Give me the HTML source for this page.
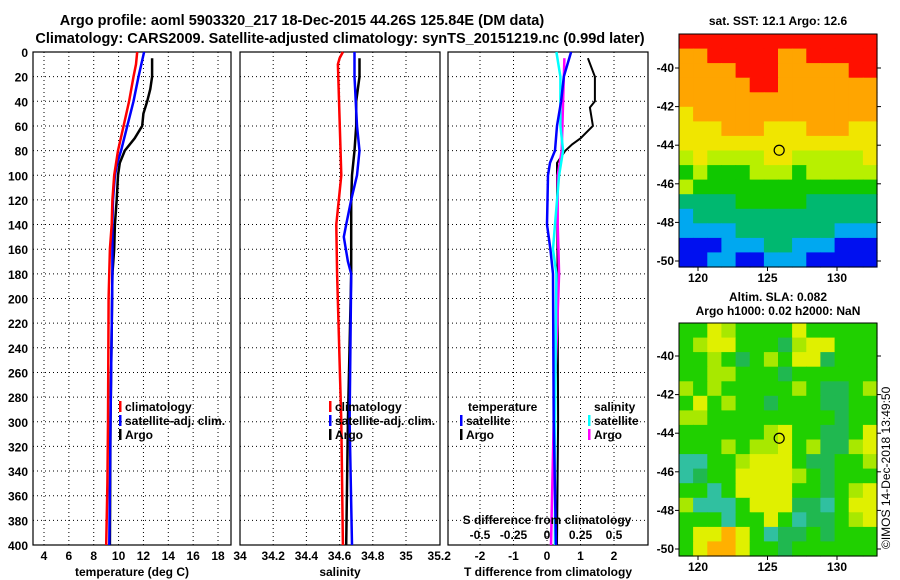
<!DOCTYPE html>
<html><head><meta charset="utf-8"><style>
body{margin:0;background:#fff;}
svg{display:block;font-family:"Liberation Sans",sans-serif;font-weight:bold;}
</style></head><body>
<svg id="c" width="900" height="580" viewBox="0 0 900 580">
<text x="302" y="25" font-size="14.5" text-anchor="middle">Argo profile: aoml 5903320_217 18-Dec-2015 44.26S 125.84E (DM data)</text>
<text x="340" y="43" font-size="14.5" text-anchor="middle">Climatology: CARS2009. Satellite-adjusted climatology: synTS_20151219.nc (0.99d later)</text>
<text x="778" y="25" font-size="12" text-anchor="middle">sat. SST: 12.1 Argo: 12.6</text>
<text x="778" y="301" font-size="12" text-anchor="middle">Altim. SLA: 0.082</text>
<text x="778" y="315" font-size="12" text-anchor="middle">Argo h1000: 0.02 h2000: NaN</text>
<text transform="translate(890,549) rotate(-90)" font-size="12" font-weight="normal">©IMOS 14-Dec-2018 13:49:50</text>
</svg>
<script>
// ---- data ----
const depthTicks=[0,20,40,60,80,100,120,140,160,180,200,220,240,260,280,300,320,340,360,380,400];
const tempTicks=[4,6,8,10,12,14,16,18];
const salTicks=[34,34.2,34.4,34.6,34.8,35,35.2];
const salTickLabels=["34","34.2","34.4","34.6","34.8","35","35.2"];
const tdiffTicks=[-2,-1,0,1,2];
const sdiffTicks=[-0.5,-0.25,0,0.25,0.5];
const sdiffTickLabels=["-0.5","-0.25","0","0.25","0.5"];
const climDepth=[0,10,20,40,60,80,100,120,140,160,200,300,350,400];
const climTemp=[11.5,11.4,11.2,10.85,10.4,9.95,9.65,9.5,9.45,9.3,9.2,9.15,9.1,9.0];
const satDepth=[0,20,40,60,80,90,100,120,140,180,300,400];
const satTemp=[12.05,11.6,11.2,10.7,10.2,9.9,9.7,9.55,9.5,9.5,9.35,9.25];
const argoDepth=[5,20,30,40,50,60,70,80,90,100,120,140,160,180,300,400];
const argoTemp=[12.7,12.7,12.55,12.3,12.0,11.9,11.3,10.5,10.1,9.95,9.85,9.7,9.65,9.5,9.35,9.3];
const climSalDepth=[0,5,10,100,140,180,300,400];
const climSal=[34.62,34.6,34.59,34.61,34.58,34.585,34.61,34.62];
const satSalDepth=[0,20,60,80,100,120,140,150,170,180,300,400];
const satSal=[34.69,34.69,34.705,34.72,34.705,34.67,34.64,34.625,34.65,34.67,34.66,34.675];
const argoSalDepth=[5,20,40,60,80,100,120,180,300,400];
const argoSal=[34.72,34.72,34.70,34.70,34.69,34.675,34.67,34.67,34.65,34.64];
const tdSatDepth=[0,20,40,60,80,90,100,140,160,180,300,400];
const tdSat=[0.72,0.5,0.42,0.3,0.24,0.09,0.03,0,0.1,0.18,0.2,0.27];
const tdArgoDepth=[5,20,40,45,55,60,70,75,80,90,100,200,300,400];
const tdArgo=[1.22,1.43,1.43,1.28,1.34,1.37,1.0,0.75,0.55,0.3,0.3,0.32,0.33,0.3];
const sdSatDepth=[0,20,60,80,100,140,160,180,300,400];
const sdSat=[0.07,0.1,0.1,0.12,0.09,0.06,0.045,0.07,0.06,0.06];
const sdArgoDepth=[5,40,80,100,140,180,300,400];
const sdArgo=[0.13,0.12,0.11,0.08,0.08,0.09,0.05,0.03];
const lonTicks=[120,125,130];
const latTicks=[-40,-42,-44,-46,-48,-50];
const sstGrid=["rrrrrrrrrrrrrr","oorrrrroorrrrr","oooorrrooooorr","ooooorrooooooo","oooooooooooooo","yooooooooooooo","yyyoooyyyoooyy","yyyyyyyyyyyyyy","YyYYYYyyYYYYYy","gYgggYYYgYYYYY","Ygggggggggggggg","GGGGgggggGGGGG","cGGGGGGGGGGGGG","ccccGGGGGGGccc","bbbcccGGcccbbb","bbccbbcccbbbbb"];
const slaGrid=["ggylggggyggggg","glyygggGlyyggg","gglgGglgyyGggg","ggllgggGgggggg","lglggggglgGGgl","gyglggGgggGGgg","llgggggggggGgg","gggggglyggGGgy","ggglgllyglGGly","ttgglyyygGGggl","tGggyyyylgGggg","ggtgyyyyggGgly","ltttgyyyGGtgyy","gggtggygtGGgly","gyyoygtGGgGggg","gyooyggGgggggg"];
const argoLon=125.84, argoLat=-44.26;
// ---- drawing ----
const svg=document.getElementById('c');const NS='http://www.w3.org/2000/svg';
function mk(t,a,p){const e=document.createElementNS(NS,t);for(const k in a)e.setAttribute(k,a[k]);(p||svg).appendChild(e);return e;}
const yD=d=>52+d*1.2325;
function panel(name,x0,x1,xs,ticks,labels,title,withY){
  const g=mk('g',{});
  
  
  mk('rect',{x:x0,y:52,width:x1-x0,height:493,fill:'#fff'},g);
  ticks.forEach((t,i)=>{const x=xs(t);
    if(x>x0+1&&x<x1-1){const l=mk('line',{x1:x,x2:x,y1:52,y2:545,stroke:'#000','stroke-dasharray':'1,3'},g);
      }
    const tx=mk('text',{x:x,y:560,'font-size':12,'text-anchor':'middle'},g);tx.textContent=labels[i];
    });
  depthTicks.forEach(d=>{const y=yD(d);
    if(d>0&&d<400){const l=mk('line',{x1:x0,x2:x1,y1:y,y2:y,stroke:'#000','stroke-dasharray':'1,3'},g);
      }
    if(withY){const tx=mk('text',{x:28,y:y+5,'font-size':12,'text-anchor':'end'},g);tx.textContent=d;
      }});
  mk('rect',{x:x0,y:52,width:x1-x0,height:493,fill:'none',stroke:'#000','stroke-width':1.2},g);
  const tt=mk('text',{x:(x0+x1)/2,y:576,'font-size':12,'text-anchor':'middle'},g);tt.textContent=title;
  
  return g;}
function line(g,ds,vs,xs,col,w,name){
  const pts=ds.map((d,i)=>xs(vs[i]).toFixed(1)+','+yD(d).toFixed(1)).join(' ');
  const p=mk('polyline',{points:pts,fill:'none',stroke:col,'stroke-width':w},g);
  }
function legend(g,x,y,items){items.forEach((it,i)=>{const yy=y+i*14;
  if(it[1]){const r=mk('rect',{x:x,y:yy-10,width:2.5,height:11,fill:it[1]},g);}
  const t=mk('text',{x:x+(it[1]?6:0),y:yy,'font-size':12},g);t.textContent=it[0];
  });}
// temperature
const xT=t=>44+(t-4)*12.43;
const g1=panel('temperature-panel',33,231,xT,tempTicks,tempTicks.map(String),'temperature (deg C)',true);
line(g1,argoDepth,argoTemp,xT,'#000',2.5,'argo-temp-line');
line(g1,satDepth,satTemp,xT,'#0000ff',2.5,'satellite-temp-line');
line(g1,climDepth,climTemp,xT,'#ff0000',2.5,'climatology-temp-line');
legend(g1,119,411,[['climatology','#f00'],['satellite-adj. clim.','#00f'],['Argo','#000']]);
// salinity
const xS=s=>240+(s-34)*166;
const g2=panel('salinity-panel',240,440,xS,salTicks,salTickLabels,'salinity',false);
line(g2,climSalDepth,climSal,xS,'#ff0000',2.5,'climatology-sal-line');
line(g2,argoSalDepth,argoSal,xS,'#000',2.5,'argo-sal-line');
line(g2,satSalDepth,satSal,xS,'#0000ff',2.5,'satellite-sal-line');
legend(g2,329,411,[['climatology','#f00'],['satellite-adj. clim.','#00f'],['Argo','#000']]);
// differences
const xTD=d=>547+d*33.5, xSD=d=>547+d*134;
const g3=panel('difference-panel',448,648,xTD,tdiffTicks,tdiffTicks.map(String),'T difference from climatology',false);
line(g3,tdArgoDepth,tdArgo,xTD,'#000',2,'argo-tdiff-line');
line(g3,sdArgoDepth,sdArgo,xSD,'#ff00ff',2.5,'argo-sdiff-line');
line(g3,sdSatDepth,sdSat,xSD,'#00ffff',2.5,'satellite-sdiff-line');
line(g3,tdSatDepth,tdSat,xTD,'#0000ff',2.5,'satellite-tdiff-line');
legend(g3,468,411,[['temperature',null]]);legend(g3,460,425,[['satellite','#00f'],['Argo','#000']]);
legend(g3,594,411,[['salinity',null]]);legend(g3,588,425,[['satellite','#0ff'],['Argo','#f0f']]);
const st=mk('text',{x:547,y:524,'font-size':12,'text-anchor':'middle'},g3);st.textContent='S difference from climatology';

sdiffTicks.forEach((s,i)=>{const t=mk('text',{x:xSD(s),y:539,'font-size':12,'text-anchor':'middle'},g3);t.textContent=sdiffTickLabels[i];
  });
// maps
const sstCol={r:'#ff1000',o:'#ffa500',y:'#f0e600',Y:'#b8f000',g:'#10c800',G:'#00b870',c:'#00a8f0',b:'#0010f0'};
const slaCol={g:'#20d000',G:'#20b850',l:'#a8e800',y:'#e0f000',t:'#30c0a0',o:'#ffb000'};
function map(name,top,bot,lat40y,grid,cols,labY){
  const x0=679,x1=877,xL=l=>698+(l-120)*13.9,yL=l=>lat40y+(-40-l)*19.3;
  const g=mk('g',{});
  const nr=grid.length,nc=grid[0].length,cw=(x1-x0)/nc,ch=(bot-top)/nr;
  grid.forEach((row,r)=>{for(let c=0;c<nc;c++){const k=row[c];
    const cell=mk('rect',{x:(x0+c*cw).toFixed(1),y:(top+r*ch).toFixed(1),width:(cw+0.6).toFixed(1),height:(ch+0.6).toFixed(1),fill:cols[k]},g);
    }});
  mk('rect',{x:x0,y:top,width:x1-x0,height:bot-top,fill:'none',stroke:'#000'},g);
  lonTicks.forEach(l=>{const x=xL(l);mk('line',{x1:x,x2:x,y1:bot,y2:bot+4,stroke:'#000'},g);
    const t=mk('text',{x:x,y:labY,'font-size':12,'text-anchor':'middle'},g);t.textContent=l;
    });
  latTicks.forEach(l=>{const y=yL(l);mk('line',{x1:x1,x2:x1+4,y1:y,y2:y,stroke:'#000'},g);mk('line',{x1:x0-4,x2:x0,y1:y,y2:y,stroke:'#000'},g);
    const t=mk('text',{x:x0-5,y:y+4,'font-size':12,'text-anchor':'end'},g);t.textContent=l;
    });
  const m=mk('circle',{cx:xL(argoLon),cy:yL(argoLat),r:5,fill:'none',stroke:'#000','stroke-width':1.2},g);
  }
map('sst-map',34,267,68,sstGrid,sstCol,282);
map('sla-map',323,556,356,slaGrid,slaCol,571);
</script>
</body></html>
